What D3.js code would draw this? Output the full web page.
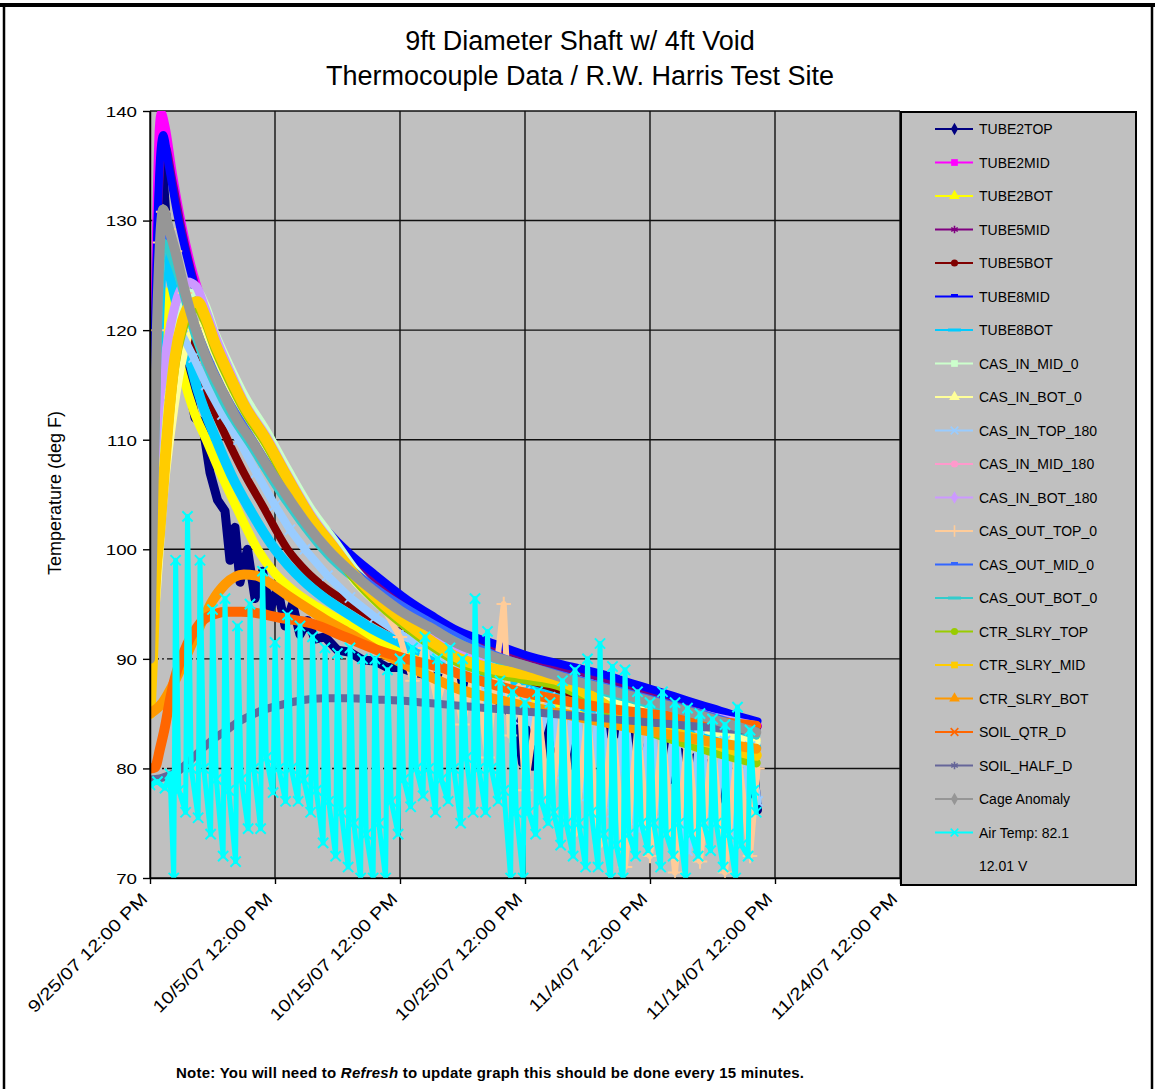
<!DOCTYPE html>
<html>
<head>
<meta charset="utf-8">
<script src="https://cdn.jsdelivr.net/npm/d3@7"></script>
<style>
  html, body { margin: 0; padding: 0; background: #fff; }
  svg text { font-family: "Liberation Sans", Arial, Helvetica, sans-serif; }
</style>
</head>
<body>
<svg id="chart" width="1155" height="1089"></svg>
<script>
// ---- Data: [days since 9/25/07 12:00 PM, temperature deg F] ----
const xTickDays = [0, 10, 20, 30, 40, 50, 60];
const yTicks = [70, 80, 90, 100, 110, 120, 130, 140];

const tube2Top = [[0,92],[0.4,115],[0.7,128],[1,135],[1.3,130],[1.8,124],[2.4,117],[3,115.5],[3.6,112],[4.2,111.5],[4.8,107],[5.4,104.5],[6,103.5],[6.4,99],[6.8,102],[7.2,97],[7.8,100],[8.4,95.5],[9,98],[9.6,94.5],[10.2,96.5],[10.8,93],[11.4,95],[12,92.2],[12.6,93.5],[13.2,91.8],[14,92],[15,90.8],[16,90.6],[17,89.9],[18,89.8],[19,89.2],[20,89.2],[21,88.8],[22,88.6],[23,88.3],[24,88],[25,87.6],[26,87.2],[27,86.8],[28.5,85.6],[29.4,84],[29.8,80.5],[30.2,83.5],[30.6,80.2],[31,83.8],[31.4,81],[31.8,84.2],[32.2,80.8],[32.6,83],[33,81.5],[33.4,82.5],[33.8,80.3],[34.2,82],[34.6,81],[35,82.8],[35.6,81.5],[36.2,84.3],[37,82.8],[37.6,84],[38.2,80.5],[38.8,83.2],[39.4,79.5],[40,83],[40.6,78.8],[41.2,82.2],[41.8,79],[42.4,81.5],[43,77.8],[43.6,81],[44.2,78.5],[44.8,80.5],[45.4,77],[46,80],[46.6,76.5],[47.2,79.5],[47.8,77.5],[48.3,79.8],[48.6,76.2]];
const tube2Mid = [[0,97],[0.25,112],[0.5,128],[0.75,138.5],[0.9,139.8],[1.2,138.6],[1.8,134.2],[2.5,129.8],[3.3,125.8],[4.2,122.4],[5,119.8],[6.2,116.6],[7.6,113.2],[9,110],[10.2,107.4],[11,105.7],[12.5,103.4],[14,101.4],[16,99.1],[18,97.2],[20.6,94.9],[22.5,93.5],[24.6,92.1],[27.5,90.9],[30.2,89.8],[33,89],[36.2,88.1],[38.5,87.3],[40.8,86.5],[43,85.7],[45,85],[47,84.4],[48.6,83.9]];
const tube2Bot = [[0,88],[0.3,100],[0.6,112],[0.9,120],[1.2,123.5],[1.8,120],[2.6,116],[3.5,112.6],[4.5,110],[5.5,107.3],[6.6,104.6],[7.6,102.2],[8.6,100],[10,97.8],[11.5,96.2],[13,95],[14.5,94],[16,93],[18,91.8],[20,90.8],[22,89.9],[24,89],[26,88.2],[28,87.4],[30,86.7],[32,86],[34,85.3],[36,84.6],[38,84],[40,83.4],[42,82.8],[44,82.3],[46,81.8],[48.5,81.3]];
const tube5Mid = [[0,96],[0.3,115],[0.6,129],[0.9,136],[1.2,136.8],[1.8,133.6],[2.5,129.4],[3.3,125.4],[4.2,122],[5,119.5],[6.2,116.3],[7.6,113],[9,109.9],[10.2,107.3],[11,105.6],[12.5,103.3],[14,101.3],[16,99],[18,97.1],[20.6,94.8],[22.5,93.4],[24.6,92],[27.5,90.8],[30.2,89.7],[33,88.9],[36.2,88],[38.5,87.2],[40.8,86.4],[43,85.6],[45,84.9],[47,84.3],[48.6,83.8]];
const tube5Bot = [[0,93],[0.3,108],[0.7,121],[1.1,127],[1.6,125.5],[2.6,121.5],[4,116],[5,113],[6.2,110],[7.5,107],[9,104],[11,100],[12.5,98],[14,96.5],[16,95],[18,93.6],[20,92.4],[22,91.3],[24,90.3],[26,89.4],[28,88.6],[30,87.9],[32,87.2],[34,86.5],[36,85.8],[38,85.2],[40,84.6],[42,84],[44,83.5],[46,83],[48.5,82.5]];
const tube8Mid = [[0,95],[0.3,116],[0.6,130],[0.85,136.5],[1.05,137.8],[1.5,135],[2.2,130.5],[3,126.5],[3.8,123],[4.6,120.5],[5.5,118],[6.5,115.8],[7.6,113.5],[9,110.4],[10.2,107.9],[11,106.2],[12.5,103.9],[14,101.9],[16,99.6],[18,97.7],[20.6,95.4],[22.5,94],[24.6,92.6],[27.5,91.4],[30.2,90.3],[33,89.5],[36.2,88.6],[38.5,87.8],[40.8,87],[43,86.2],[45,85.5],[47,84.8],[48.6,84.3]];
const tube8Bot = [[0,90],[0.3,104],[0.7,120],[1.1,127.5],[1.6,125],[2.6,120],[3.8,114.6],[5.3,110],[6.5,106.8],[8,103.6],[10,100],[12.2,97.2],[14,95.5],[16,94],[18,92.6],[20,91.5],[22,90.5],[24,89.6],[26,88.8],[28,88],[30,87.3],[32,86.6],[34,85.9],[36,85.2],[38,84.6],[40,84],[42,83.4],[44,82.9],[46,82.4],[48.5,81.9]];
const casInMid0 = [[0,90],[0.3,100],[0.7,108],[1.2,114],[1.8,118.5],[2.5,121.5],[3.2,123.3],[3.8,123.5],[4.4,122.3],[5.2,119.7],[6.3,116.9],[7.6,113.9],[9.3,110.8],[11,107.3],[12.8,103.8],[14.8,100.7],[16.5,98],[18.5,95.7],[20.5,93.8],[22.5,92.1],[24.8,90.5],[27,89.7],[30,89],[32.8,88.4],[35,87.4],[37,86.3],[39,85.6],[41,84.8],[43,84.1],[45,83.4],[47,82.8],[48.5,82.4]];
const casInBot0 = [[0,89],[0.5,96],[1,104],[1.8,112],[2.6,117.5],[3.5,120.5],[4.2,120.3],[5.2,117.5],[6.3,114.8],[7.6,112],[9.3,109],[11,105.7],[12.8,102.4],[14.8,99.4],[16.5,97],[18.5,94.8],[20.5,93],[22.5,91.4],[24.8,89.9],[27,89.2],[30,88.6],[33,87.8],[36,86.6],[39,85.4],[42,84.4],[45,83.5],[48.5,82.6]];
const casInTop180 = [[0,95],[0.3,106],[0.8,114],[1.6,118.5],[2.6,119.5],[3.5,117.5],[4.5,115],[5.8,112.3],[7.1,110],[8.5,107],[10,104],[11.2,101.8],[12.4,100],[14.2,97.6],[16,95.6],[18,93.8],[20,92.3],[22,91],[24,89.8],[26,88.7],[27,85.5],[28,88],[29,84.5],[30,87],[31,82.5],[32,86.5],[33,79.5],[34,85.8],[35,77.5],[36,85.3],[37,76],[38,84.8],[39,74.5],[40,84.2],[41,76],[42,83.6],[43,72.5],[44,83],[45,75],[46,82.5],[47,73.5],[48,82],[48.6,77]];
const casInMid180 = [[0,94],[0.3,106],[0.6,120],[0.9,127],[1.1,129.5],[1.6,128],[2.8,122.8],[4.6,116.8],[7,111.5],[9.6,106.9],[12.6,101.9],[16,97.7],[20,94.2],[24.6,91.3],[30.2,89.2],[36.2,87.2],[40.8,85.8],[45,84.4],[48.5,83.2]];
const casInBot180 = [[0,96],[0.3,106],[0.8,114],[1.5,119.5],[2.2,123],[3,124.4],[3.7,124],[4.4,122],[5.2,119.5],[6.3,116.5],[7.6,113.3],[9.3,110.3],[11,106.8],[12.8,103.3],[14.8,100.2],[16.5,97.6],[18.5,95.4],[20.5,93.6],[22.5,92],[24.8,90.6],[27,89.8],[30,89.1],[33,88.4],[36,87.5],[39,86.5],[42,85.6],[45,84.7],[48.5,83.9]];
const casOutTop0 = [[0,90],[0.25,104],[0.55,120],[0.8,128],[1.05,130.8],[1.5,129.2],[2,127.2],[2.8,123.4],[3.6,120.2],[4.6,117.1],[5.8,114.3],[7,111.7],[8.2,109.7],[9.6,107.1],[11,104.7],[12.6,102.1],[14.2,99.9],[16,97.9],[18,96],[20,92],[21,88],[22,91],[23,86],[24,90],[25,84],[26,89.5],[27,81],[27.6,88],[28.3,95],[28.8,83],[29.5,87.5],[30,78],[31,86],[32,76],[33,85.5],[34,74],[35,85],[36,73],[37,84.5],[38,71],[39,84],[40,72],[41,83.5],[42,70.5],[43,83],[44,71.5],[45,82.5],[46,70.5],[47,82],[48,72],[48.6,80]];
const casOutMid0 = [[0,93],[0.3,108],[0.6,121],[1.05,129],[2,126.5],[3.6,120.5],[5.8,114.6],[8.2,110],[11,105],[14.2,100.2],[18,96.5],[22.5,93.3],[27.5,90.4],[33,88.5],[38.5,86.8],[43,85.4],[48.5,83.5]];
const casOutBot0 = [[0,91],[0.3,104],[0.6,118],[1.05,128],[2,125.8],[3.6,119.5],[5.8,113.6],[8.2,109.2],[11,104.2],[14.2,99.5],[18,95.9],[22.5,92.8],[27.5,90],[33,88],[38.5,86.3],[43,84.9],[48.5,83]];
const ctrSlryTop = [[0,86],[0.2,90.5],[0.4,96],[0.8,101.5],[1.2,107.5],[1.6,112.8],[2,116.8],[2.6,120],[3.2,121.6],[3.8,122],[4.4,120.8],[5.2,118.3],[6.3,115.5],[7.6,112.6],[9.3,109.6],[11,106.1],[12.8,102.6],[14.8,99.6],[16.5,97.1],[18.5,94.8],[20.5,92.9],[22.5,91.2],[24.8,89.6],[27,88.8],[30,88.1],[32.8,87.5],[35,86.3],[37,84.8],[38.6,84],[40.8,83],[43,82.2],[45,81.5],[47,80.9],[48.5,80.5]];
const ctrSlryMid = [[0,85],[0.2,90],[0.4,96.3],[0.8,102],[1.2,108],[1.6,113.5],[2,117.5],[2.6,120.8],[3.2,122.3],[3.8,122.6],[4.4,121.3],[5.2,118.8],[6.3,116],[7.6,113],[9.3,110],[11,106.5],[12.8,103],[14.8,100],[16.5,97.5],[18.5,95.2],[20.5,93.3],[22.5,91.6],[24.8,90],[27,89.2],[30,88.6],[32.8,88],[35,86.8],[37,85.4],[38.6,84.6],[40.8,83.6],[43,82.9],[45,82.3],[47,81.6],[48.5,81.2]];
const ctrSlryBot = [[0,85],[1,86],[2,88],[3,90.5],[4,93],[5,95.3],[6,96.8],[7.5,97.7],[8.5,97.6],[9.6,96.9],[11,95.8],[12.6,94.6],[14,93.6],[16,92.3],[18,90.9],[20,89.7],[22,88.6],[24.8,87.2],[27,86.5],[30,85.7],[33,85],[36,84.3],[39,83.6],[42,83],[45,82.4],[48.5,81.8]];
const soilQtrD = [[0,80],[0.4,80.1],[0.8,81.8],[1.2,83.8],[1.6,86.3],[2,88.3],[2.5,90],[3,91.4],[3.6,92.6],[4.2,93.5],[5.2,94.1],[6.2,94.3],[7.3,94.3],[8.4,94.2],[10.2,93.8],[13,93.2],[15.6,92],[18.2,90.8],[20.5,90],[23.6,89.1],[24.8,88.6],[27,87.8],[30,86.9],[33,86.2],[36,85.6],[39,85.1],[42,84.7],[45,84.3],[48.5,83.9]];
const soilHalfD = [[0,79],[0.8,79.1],[1.6,79.4],[2.3,79.8],[3,80.5],[4,81.6],[5,82.6],[6,83.4],[7,84.2],[8,84.8],[9,85.3],[10.5,85.8],[12,86.2],[14,86.4],[16,86.4],[18,86.3],[20,86.2],[22,86],[24,85.8],[26,85.6],[28,85.4],[30,85.2],[32,85],[34,84.8],[36,84.6],[38,84.4],[40,84.2],[42,84],[44,83.8],[46,83.6],[48.5,83.4]];
const cageAnomaly = [[0,90],[0.25,104],[0.55,120],[0.8,128],[1.05,131],[1.5,129.3],[2,127.3],[2.8,123.5],[3.6,120.3],[4.6,117.2],[5.8,114.4],[7,111.8],[8.2,109.8],[9.6,107.2],[11,104.8],[12.6,102.2],[14.2,100],[16,98],[18,96.1],[20,94.4],[22.5,92.8],[24.6,91.4],[27.5,90.2],[30.2,89.3],[33,88.3],[36.2,87.3],[38.5,86.6],[40.8,85.9],[43,85.2],[45,84.5],[47,83.8],[48.5,83.3]];
const airTemp = [[0,78.5],[0.6,78.8],[1.2,78.2],[1.6,79.5],[1.9,70],[2.05,99],[2.3,78],
  [2.85,76],[3.0,103],[3.3,80],[3.85,75.5],[4.0,99],[4.3,80],[4.85,74],[5.0,94.5],[5.3,79],
  [5.85,72],[6.0,95.5],[6.3,78],[6.85,71.5],[7.0,93],[7.3,79],[7.85,74.5],[8.0,95],[8.3,80],
  [8.85,74.5],[9.0,98],[9.3,81],[9.85,77.8],[10.0,91.5],[10.3,80],[10.85,77],[11.0,94],[11.3,80],
  [11.85,77],[12.0,93],[12.3,79],[12.85,76],[13.0,92],[13.3,78],[13.85,73.2],[14.0,91],[14.3,77],
  [14.85,72],[15.0,90.5],[15.3,76],[15.85,71],[16.0,91],[16.3,75],[16.85,70],[17.0,90],[17.3,74],
  [17.85,70],[18.0,90],[18.3,75],[18.85,70],[19.0,89],[19.3,77],[19.85,74],[20.0,90],[20.3,79],
  [20.85,76.5],[21.0,91],[21.3,80],[21.85,77.5],[22.0,92],[22.3,80],[22.85,76],[23.0,90],[23.3,79],
  [23.85,77],[24.0,91],[24.3,80],[24.85,75],[25.0,90],[25.3,81],[25.85,76],[26.0,95.5],[26.3,80],
  [26.85,76],[27.0,92.5],[27.3,80],[27.85,77],[28.0,88],[28.3,78],[28.85,70],[29.0,87],[29.3,76],
  [29.85,70],[30.0,86],[30.3,76],[30.85,74],[31.0,87],[31.3,77],[31.85,75],[32.0,86],[32.3,76],
  [32.85,73],[33.0,88],[33.3,75],[33.85,72],[34.0,89],[34.3,75],[34.85,71],[35.0,90],[35.3,76],
  [35.85,71],[36.0,91.4],[36.3,74],[36.85,70],[37.0,89.3],[37.3,73],[37.85,70],[38.0,89],[38.3,74],
  [38.85,72],[39.0,87],[39.3,75],[39.85,72.5],[40.0,86],[40.3,75],[40.85,71],[41.0,87],[41.3,74],
  [41.85,72],[42.0,86],[42.3,75],[42.85,70],[43.0,85.5],[43.3,74],[43.85,72],[44.0,85],[44.3,75],
  [44.85,72.5],[45.0,84.5],[45.3,75],[45.85,71],[46.0,84],[46.3,74],[46.85,70],[47.0,85.6],[47.3,73],
  [47.85,72],[48.0,83.5],[48.3,78],[48.5,76]];

// Series in plotting order (later series are drawn on top)
const seriesNames = ["TUBE2TOP","TUBE2MID","TUBE2BOT","TUBE5MID","TUBE5BOT","TUBE8MID","TUBE8BOT",
  "CAS_IN_MID_0","CAS_IN_BOT_0","CAS_IN_TOP_180","CAS_IN_MID_180","CAS_IN_BOT_180",
  "CAS_OUT_TOP_0","CAS_OUT_MID_0","CAS_OUT_BOT_0","CTR_SLRY_TOP","CTR_SLRY_MID","CTR_SLRY_BOT",
  "SOIL_QTR_D","SOIL_HALF_D","Cage Anomaly","Air Temp: 82.1"];
const seriesValues = [tube2Top, tube2Mid, tube2Bot, tube5Mid, tube5Bot, tube8Mid, tube8Bot,
  casInMid0, casInBot0, casInTop180, casInMid180, casInBot180,
  casOutTop0, casOutMid0, casOutBot0, ctrSlryTop, ctrSlryMid, ctrSlryBot,
  soilQtrD, soilHalfD, cageAnomaly, airTemp];
const extraLegendText = "12.01 V";

// ---- Styles ----
const styles = {
  "TUBE2TOP":       {color:"#000080", marker:"diamond",  w:9},
  "TUBE2MID":       {color:"#FF00FF", marker:"square",   w:9},
  "TUBE2BOT":       {color:"#FFFF00", marker:"triangle", w:9},
  "TUBE5MID":       {color:"#800080", marker:"asterisk", w:8},
  "TUBE5BOT":       {color:"#800000", marker:"circle",   w:8},
  "TUBE8MID":       {color:"#0000FF", marker:"shortbar", w:8},
  "TUBE8BOT":       {color:"#00CCFF", marker:"longbar",  w:10},
  "CAS_IN_MID_0":   {color:"#CCFFCC", marker:"square",   w:9},
  "CAS_IN_BOT_0":   {color:"#FFFF99", marker:"triangle", w:9},
  "CAS_IN_TOP_180": {color:"#99CCFF", marker:"times",    w:8, pointMarks:true},
  "CAS_IN_MID_180": {color:"#FF99CC", marker:"circle",   w:8},
  "CAS_IN_BOT_180": {color:"#CC99FF", marker:"diamond",  w:9},
  "CAS_OUT_TOP_0":  {color:"#FFCC99", marker:"plus",     w:6, pointMarks:true},
  "CAS_OUT_MID_0":  {color:"#3366FF", marker:"shortbar", w:8},
  "CAS_OUT_BOT_0":  {color:"#33CCCC", marker:"longbar",  w:8},
  "CTR_SLRY_TOP":   {color:"#99CC00", marker:"circle",   w:9},
  "CTR_SLRY_MID":   {color:"#FFCC00", marker:"square",   w:11},
  "CTR_SLRY_BOT":   {color:"#FF9900", marker:"triangle", w:10},
  "SOIL_QTR_D":     {color:"#FF6600", marker:"times",    w:10},
  "SOIL_HALF_D":    {color:"#666699", marker:"asterisk", w:8},
  "Cage Anomaly":   {color:"#969696", marker:"diamond",  w:10},
  "Air Temp: 82.1": {color:"#00FFFF", marker:"times",    w:5, pointMarks:true}
};
const smoothSeries = new Set(["TUBE2MID","TUBE2BOT","TUBE5MID","TUBE5BOT","TUBE8MID","TUBE8BOT",
  "CAS_IN_MID_0","CAS_IN_BOT_0","CAS_IN_MID_180","CAS_IN_BOT_180","CAS_OUT_MID_0","CAS_OUT_BOT_0",
  "CTR_SLRY_TOP","CTR_SLRY_MID","CTR_SLRY_BOT","SOIL_QTR_D","SOIL_HALF_D","Cage Anomaly"]);

// ---- Layout ----
const plot = {left:150, right:900, top:111, bottom:878};
const T0 = Date.UTC(2007, 8, 25, 12, 0, 0);
const toDate = d => new Date(T0 + d * 86400000);

const x = d3.scaleUtc().domain([toDate(0), toDate(60)]).range([plot.left, plot.right]);
const y = d3.scaleLinear().domain([70, 140]).range([plot.bottom, plot.top]);

const svg = d3.select("#chart");

// Outer frame
svg.append("rect").attr("x", 4).attr("y", 5).attr("width", 1148).attr("height", 1100)
  .attr("fill", "#fff").attr("stroke", "#000").attr("stroke-width", 2.5);
svg.append("line").attr("x1", 0).attr("x2", 1155).attr("y1", 5).attr("y2", 5)
  .attr("stroke", "#000").attr("stroke-width", 4);

// Title
const title = svg.append("text").attr("text-anchor", "middle").attr("font-size", 27).attr("fill", "#000");
title.append("tspan").attr("x", 580).attr("y", 50).text("9ft Diameter Shaft w/ 4ft Void");
title.append("tspan").attr("x", 580).attr("y", 85).text("Thermocouple Data / R.W. Harris Test Site");

// Plot background
svg.append("rect").attr("x", plot.left).attr("y", plot.top)
  .attr("width", plot.right - plot.left).attr("height", plot.bottom - plot.top)
  .attr("fill", "#C0C0C0");

// Gridlines
const grid = svg.append("g").attr("stroke", "#111").attr("stroke-width", 1.4);
yTicks.forEach(v => {
  if (v === 80) {
    grid.append("line").attr("x1", plot.left).attr("x2", x(toDate(40))).attr("y1", y(v)).attr("y2", y(v))
      .attr("stroke-dasharray", "9,3,2,3");
    grid.append("line").attr("x1", x(toDate(40))).attr("x2", plot.right).attr("y1", y(v)).attr("y2", y(v));
  } else if (v === 90) {
    grid.append("line").attr("x1", plot.left).attr("x2", x(toDate(17))).attr("y1", y(v)).attr("y2", y(v))
      .attr("stroke-dasharray", "9,3,2,3");
    grid.append("line").attr("x1", x(toDate(17))).attr("x2", plot.right).attr("y1", y(v)).attr("y2", y(v));
  } else {
    grid.append("line").attr("x1", plot.left).attr("x2", plot.right).attr("y1", y(v)).attr("y2", y(v));
  }
});
xTickDays.forEach(d => {
  grid.append("line").attr("x1", x(toDate(d))).attr("x2", x(toDate(d)))
    .attr("y1", plot.top).attr("y2", plot.bottom);
});

// Marker shapes
const markerPath = {
  diamond: d3.symbol(d3.symbolDiamond, 45)(),
  square: d3.symbol(d3.symbolSquare, 45)(),
  triangle: d3.symbol(d3.symbolTriangle, 50)(),
  circle: d3.symbol(d3.symbolCircle, 40)(),
  asterisk: d3.symbol(d3.symbolAsterisk || d3.symbolCross, 40)(),
  times: d3.symbol(d3.symbolTimes || d3.symbolCross, 40)(),
  plus: d3.symbol(d3.symbolPlus || d3.symbolCross, 45)()
};
const plotMarkPath = {
  times: d3.symbol(d3.symbolTimes || d3.symbolCross, 70)(),
  plus: d3.symbol(d3.symbolPlus || d3.symbolCross, 70)()
};
const strokeMarkers = new Set(["asterisk", "times", "plus"]);

// Series
svg.append("clipPath").attr("id", "plotClip").append("rect")
  .attr("x", plot.left).attr("y", plot.top)
  .attr("width", plot.right - plot.left).attr("height", plot.bottom - plot.top);
const seriesG = svg.append("g").attr("clip-path", "url(#plotClip)");

seriesNames.forEach((name, i) => {
  const st = styles[name];
  const g = seriesG.append("g");
  const line = d3.line()
    .x(p => x(toDate(p[0])))
    .y(p => y(p[1]))
    .curve(smoothSeries.has(name) ? d3.curveMonotoneX : d3.curveLinear);
  g.append("path")
    .datum(seriesValues[i])
    .attr("d", line)
    .attr("fill", "none")
    .attr("stroke", st.color)
    .attr("stroke-width", st.w)
    .attr("stroke-linejoin", "round")
    .attr("stroke-linecap", "round");
  if (st.pointMarks) {
    g.selectAll("path.pt").data(seriesValues[i]).join("path")
      .attr("class", "pt")
      .attr("d", plotMarkPath[st.marker])
      .attr("transform", p => `translate(${x(toDate(p[0]))},${y(p[1])})`)
      .attr("fill", "none").attr("stroke", st.color).attr("stroke-width", 2);
  }
});

// Axes
const yAxis = d3.axisLeft(y).tickValues(yTicks).tickSize(7).tickSizeOuter(0).tickPadding(0);
const yG = svg.append("g").attr("transform", `translate(${plot.left},0)`).call(yAxis);
yG.select(".domain").attr("stroke", "#000").attr("stroke-width", 1.5);
yG.selectAll(".tick line").attr("stroke", "#000").attr("stroke-width", 1.4);
yG.selectAll(".tick text")
  .attr("x", 0).attr("dy", "0.36em")
  .attr("transform", "translate(-13,0) scale(1.25,1)")
  .attr("font-size", 15).attr("fill", "#000")
  .attr("font-family", "'Liberation Sans', Arial, sans-serif");

const fmt = d3.utcFormat("%-m/%-d/%y %-I:%M %p");
const xAxis = d3.axisBottom(x).tickValues(xTickDays.map(toDate)).tickFormat(fmt).tickSize(6).tickSizeOuter(0);
const xG = svg.append("g").attr("transform", `translate(0,${plot.bottom})`).call(xAxis);
xG.select(".domain").attr("stroke", "#000").attr("stroke-width", 1.5);
xG.selectAll(".tick line").attr("stroke", "#000").attr("stroke-width", 1.4);
xG.selectAll(".tick text")
  .attr("x", 0).attr("y", 0).attr("dy", 0)
  .attr("text-anchor", "end")
  .attr("transform", "translate(-2,22) rotate(-45) scale(1.2,1)")
  .attr("font-size", 17).attr("fill", "#000")
  .attr("font-family", "'Liberation Sans', Arial, sans-serif");

// Y-axis title
svg.append("text")
  .attr("transform", "translate(61,493) rotate(-90)")
  .attr("text-anchor", "middle").attr("font-size", 18).attr("fill", "#000")
  .text("Temperature (deg F)");

// Legend
const legend = {x:901, y:112, w:235, h:773, row0:129, step:33.5};
svg.append("rect").attr("x", legend.x).attr("y", legend.y).attr("width", legend.w).attr("height", legend.h)
  .attr("fill", "#C0C0C0").attr("stroke", "#000").attr("stroke-width", 2);

const legG = svg.append("g");
seriesNames.forEach((name, i) => {
  const st = styles[name];
  const cy = legend.row0 + i * legend.step;
  const row = legG.append("g");
  row.append("line").attr("x1", 935).attr("x2", 973).attr("y1", cy).attr("y2", cy)
    .attr("stroke", st.color).attr("stroke-width", 2);
  if (st.marker === "shortbar") {
    row.append("rect").attr("x", 951).attr("y", cy - 2.5).attr("width", 7).attr("height", 2.5).attr("fill", st.color);
  } else if (st.marker === "longbar") {
    row.append("rect").attr("x", 948).attr("y", cy - 1.5).attr("width", 13).attr("height", 3).attr("fill", st.color);
  } else {
    const m = row.append("path").attr("d", markerPath[st.marker])
      .attr("transform", `translate(954.5,${cy})`);
    if (strokeMarkers.has(st.marker)) m.attr("fill", "none").attr("stroke", st.color).attr("stroke-width", 1.6);
    else m.attr("fill", st.color);
  }
  row.append("text").attr("x", 979).attr("y", cy + 5).attr("font-size", 14).attr("fill", "#000").text(name);
});
legG.append("text").attr("x", 979).attr("y", legend.row0 + seriesNames.length * legend.step + 5)
  .attr("font-size", 14).attr("fill", "#000").text(extraLegendText);

// Footnote
const note = svg.append("text").attr("x", 176).attr("y", 1078)
  .attr("font-size", 15).attr("font-weight", "bold").attr("fill", "#000")
  .attr("textLength", 628).attr("lengthAdjust", "spacing");
note.append("tspan").text("Note: You will need to  ");
note.append("tspan").attr("font-style", "italic").text("Refresh");
note.append("tspan").text("  to update graph this should be done every 15 minutes.");
</script>
</body>
</html>
